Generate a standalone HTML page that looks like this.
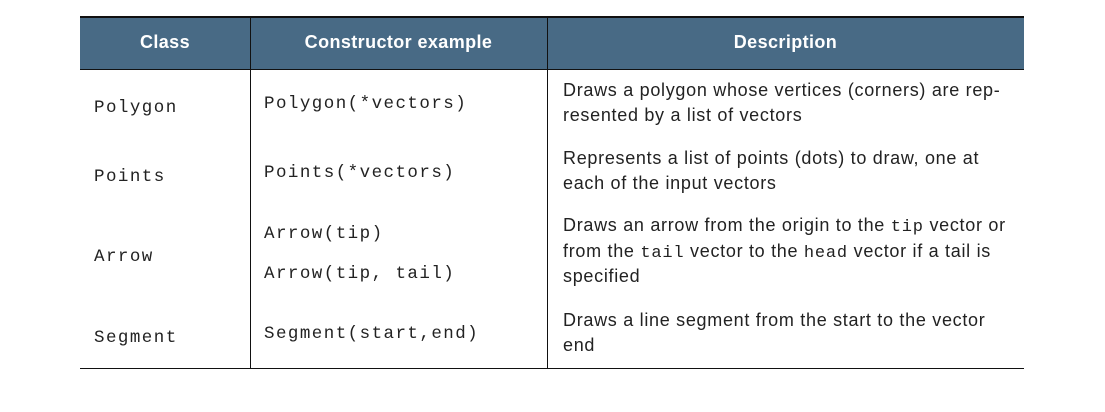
<!DOCTYPE html>
<html><head><meta charset="utf-8"><style>
body{margin:0;width:1105px;height:412px;background:#fff;position:relative;overflow:hidden}
.a{position:absolute;white-space:nowrap;line-height:20px;height:20px}
.m{font-family:"Liberation Mono",monospace;font-size:17.5px;letter-spacing:1.45px;color:#222}
.s{font-family:"Liberation Sans",sans-serif;font-size:18px;letter-spacing:0.7px;color:#222}
.s code{font-family:"Liberation Mono",monospace;font-size:17px;letter-spacing:0.8px}
.h{font-family:"Liberation Sans",sans-serif;font-weight:bold;font-size:18px;letter-spacing:0.4px;color:#fff;text-align:center}
.l{position:absolute;background:#111}
</style></head><body>
<div style="position:absolute;left:80px;top:16px;width:944px;height:53px;background:#486a85"></div>
<div class="l" style="left:80px;top:16px;width:944px;height:1.5px"></div>
<div class="l" style="left:80px;top:68.5px;width:944px;height:1.5px"></div>
<div class="l" style="left:80px;top:367.5px;width:944px;height:1.5px"></div>
<div class="l" style="left:250px;top:16px;width:1.3px;height:352px"></div>
<div class="l" style="left:547px;top:16px;width:1.3px;height:352px"></div>
<div class="a h" style="left:80px;width:170px;top:32px">Class</div>
<div class="a h" style="left:250px;width:297px;top:32px">Constructor example</div>
<div class="a h" style="left:547px;width:477px;top:32px">Description</div>

<div class="a m" style="left:94px;top:98px">Polygon</div>
<div class="a m" style="left:264px;top:94px">Polygon(*vectors)</div>
<div class="a s" style="left:563px;top:80px">Draws a polygon whose vertices (corners) are rep-</div>
<div class="a s" style="left:563px;top:105px">resented by a list of vectors</div>

<div class="a m" style="left:94px;top:167px">Points</div>
<div class="a m" style="left:264px;top:163px">Points(*vectors)</div>
<div class="a s" style="left:563px;top:148px">Represents a list of points (dots) to draw, one at</div>
<div class="a s" style="left:563px;top:173px">each of the input vectors</div>

<div class="a m" style="left:94px;top:247px">Arrow</div>
<div class="a m" style="left:264px;top:224px">Arrow(tip)</div>
<div class="a m" style="left:264px;top:264px">Arrow(tip, tail)</div>
<div class="a s" style="left:563px;top:215px">Draws an arrow from the origin to the <code>tip</code> vector or</div>
<div class="a s" style="left:563px;top:241px">from the <code>tail</code> vector to the <code>head</code> vector if a tail is</div>
<div class="a s" style="left:563px;top:266px">specified</div>

<div class="a m" style="left:94px;top:328px">Segment</div>
<div class="a m" style="left:264px;top:324px">Segment(start,end)</div>
<div class="a s" style="left:563px;top:310px">Draws a line segment from the start to the vector</div>
<div class="a s" style="left:563px;top:335px">end</div>
</body></html>
